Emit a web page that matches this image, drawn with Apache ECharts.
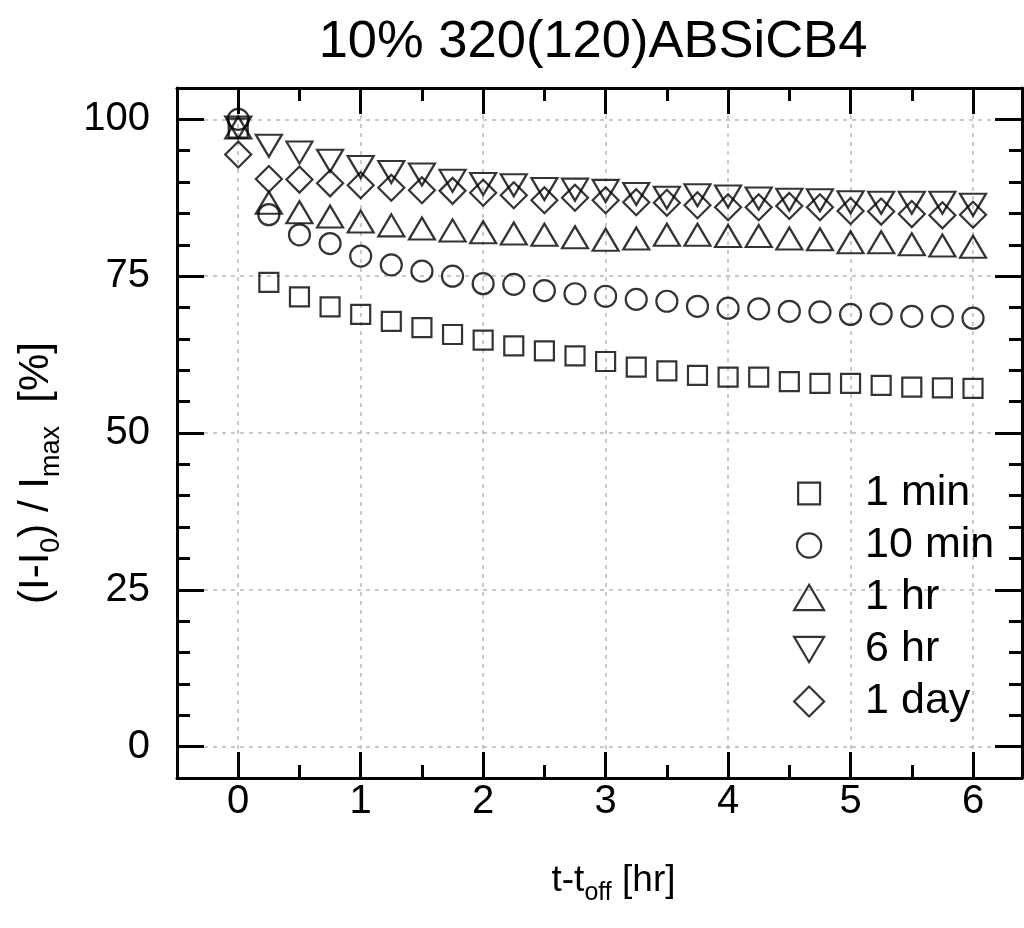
<!DOCTYPE html>
<html>
<head>
<meta charset="utf-8">
<script src="https://cdn.jsdelivr.net/npm/echarts@6/dist/echarts.min.js"></script>
<style>
html,body{margin:0;padding:0;background:#fff;}
#chart{width:1024px;height:928px;}
</style>
</head>
<body>
<div id="chart"></div>
<script>
// ---- data ----
const times = [0, 0.25, 0.5, 0.75, 1, 1.25, 1.5, 1.75, 2, 2.25, 2.5, 2.75, 3, 3.25, 3.5, 3.75, 4, 4.25, 4.5, 4.75, 5, 5.25, 5.5, 5.75, 6];
const oneMin = [98.6, 74.0, 71.7, 70.1, 68.9, 67.8, 66.8, 65.7, 64.8, 63.9, 63.1, 62.3, 61.4, 60.5, 59.9, 59.2, 58.9, 58.9, 58.2, 57.9, 57.9, 57.6, 57.3, 57.2, 57.1];
const tenMin = [100, 84.8, 81.6, 80.2, 78.2, 76.8, 75.8, 75.0, 73.8, 73.7, 72.7, 72.2, 71.8, 71.3, 71.0, 70.2, 69.9, 69.8, 69.4, 69.3, 68.9, 69.0, 68.6, 68.6, 68.3];
const oneHr = [98.7, 86.7, 85.2, 84.5, 83.7, 83.1, 82.6, 82.3, 82.0, 81.8, 81.6, 81.2, 80.8, 81.0, 81.6, 81.6, 81.4, 81.4, 81.0, 80.9, 80.4, 80.4, 80.1, 79.9, 79.7];
const sixHr = [98.7, 95.8, 94.7, 93.4, 92.4, 91.6, 91.2, 90.2, 89.7, 89.5, 88.9, 88.8, 88.6, 88.1, 87.5, 87.9, 87.7, 87.4, 87.2, 87.1, 86.8, 86.7, 86.7, 86.7, 86.4];
const oneDay = [94.4, 90.5, 90.4, 89.8, 89.5, 89.1, 88.7, 88.6, 88.3, 87.9, 87.1, 87.5, 87.1, 86.8, 86.7, 86.3, 86.0, 86.0, 86.2, 86.0, 85.4, 85.3, 84.9, 84.7, 84.8];
const seriesNames = ['1 min', '10 min', '1 hr', '6 hr', '1 day'];
const xMajorTicks = [0, 1, 2, 3, 4, 5, 6];
const xMinorTicks = [0.5, 1.5, 2.5, 3.5, 4.5, 5.5];
const yMajorTicks = [0, 25, 50, 75, 100];
const yMinorTicks = [0, 5, 10, 15, 20, 30, 35, 40, 45, 55, 60, 65, 70, 80, 85, 90, 95];
const titleText = '10% 320(120)ABSiCB4';

// ---- styling ----
const FONT = '"Liberation Sans", Arial, Helvetica, sans-serif';
const X_MIN = -0.5, X_MAX = 6.4, Y_MIN = -5, Y_MAX = 105;
const markStyle = { color: 'rgba(0,0,0,0)', borderColor: '#000', borderWidth: 2.2 };
const downTri = 'path://M0,0 L26,0 L13,22 Z';

function pairs(vals) { return times.map((t, i) => [t, vals[i]]); }

function xAx(pos, ticks, len, major, extra) {
  return Object.assign({
    type: 'value', position: pos, min: X_MIN, max: X_MAX, gridIndex: 0,
    axisLine: { show: major, onZero: false, lineStyle: { color: '#000', width: 3 } },
    axisTick: { show: true, inside: true, length: len, customValues: ticks, lineStyle: { color: '#000', width: 3 } },
    axisLabel: { show: false },
    splitLine: { show: false }
  }, extra || {});
}
function yAx(pos, ticks, len, major, extra) {
  return Object.assign({
    type: 'value', position: pos, min: Y_MIN, max: Y_MAX, gridIndex: 0,
    axisLine: { show: major, onZero: false, lineStyle: { color: '#000', width: 3 } },
    axisTick: { show: true, inside: true, length: len, customValues: ticks, lineStyle: { color: '#000', width: 3 } },
    axisLabel: { show: false },
    splitLine: { show: false }
  }, extra || {});
}

const gridLine = { show: true, lineStyle: { color: '#b8b8b8', width: 1.5, type: [4, 5] } };

const option = {
  backgroundColor: '#fff',
  animation: false,
  title: {
    text: titleText, left: 588, top: 11, textAlign: 'center',
    textStyle: { fontFamily: FONT, fontSize: 52.5, fontWeight: 'normal', color: '#000' }
  },
  grid: { left: 177, right: 2, top: 88, bottom: 150, containLabel: false },
  xAxis: [
    xAx('bottom', xMajorTicks, 26, true, {
      axisLabel: { show: true, customValues: xMajorTicks, margin: 4, fontSize: 40, fontFamily: FONT, color: '#000' },
      splitLine: gridLine,
      name: '{m|t-t}{s|off}{m| [hr]}', nameLocation: 'middle', nameGap: 84,
      nameTextStyle: {
        padding: [0, 0, 0, 28],
        rich: {
          m: { fontFamily: FONT, fontSize: 37, color: '#000', lineHeight: 44, verticalAlign: 'top' },
          s: { fontFamily: FONT, fontSize: 25, color: '#000', lineHeight: 44, verticalAlign: 'bottom' }
        }
      }
    }),
    xAx('bottom', xMinorTicks, 13, false),
    xAx('top', xMajorTicks, 26, true),
    xAx('top', xMinorTicks, 13, false)
  ],
  yAxis: [
    yAx('left', yMajorTicks, 27, true, {
      axisLabel: { show: true, customValues: yMajorTicks, margin: 27, fontSize: 40, fontFamily: FONT, color: '#000' },
      splitLine: gridLine,
      name: '{m|(I-I}{s|0}{m|) / I}{s|max}{m|  [%]}', nameLocation: 'middle', nameGap: 112,
      nameTextStyle: {
        padding: [0, 80, 0, 0],
        rich: {
          m: { fontFamily: FONT, fontSize: 42, color: '#000', lineHeight: 50, verticalAlign: 'top' },
          s: { fontFamily: FONT, fontSize: 27, color: '#000', lineHeight: 50, verticalAlign: 'bottom' }
        }
      }
    }),
    yAx('left', yMinorTicks, 13, false),
    yAx('right', yMajorTicks, 27, true),
    yAx('right', yMinorTicks, 13, false)
  ],
  legend: {
    orient: 'vertical', left: 788, top: 467, itemWidth: 30, itemHeight: 30, itemGap: 9,
    padding: 5,
    textStyle: { fontFamily: FONT, fontSize: 43, color: '#000', padding: [0, 0, 0, 36] },
    itemStyle: markStyle,
    data: [
      { name: seriesNames[0], icon: 'path://M0,0 M26,26 M3.5,3.5 L22.5,3.5 L22.5,22.5 L3.5,22.5 Z' },
      { name: seriesNames[1], icon: 'path://M0,0 M26,26 M2.5,13 A10.5,10.5 0 1 1 23.5,13 A10.5,10.5 0 1 1 2.5,13 Z' },
      { name: seriesNames[2], icon: 'path://M0,0 M26,26 M13,2 L26,24 L0,24 Z' },
      { name: seriesNames[3], icon: 'path://M0,0 M26,26 M0,2 L26,2 L13,24 Z' },
      { name: seriesNames[4], icon: 'path://M0,0 M26,26 M13,0 L26,13 L13,26 L0,13 Z' }
    ]
  },
  series: [
    { name: seriesNames[0], type: 'scatter', xAxisIndex: 0, yAxisIndex: 0, symbol: 'rect', symbolSize: 19, itemStyle: markStyle, data: pairs(oneMin) },
    { name: seriesNames[1], type: 'scatter', xAxisIndex: 0, yAxisIndex: 0, symbol: 'circle', symbolSize: 21, itemStyle: markStyle, data: pairs(tenMin) },
    { name: seriesNames[2], type: 'scatter', xAxisIndex: 0, yAxisIndex: 0, symbol: 'triangle', symbolSize: [26, 22], itemStyle: markStyle, data: pairs(oneHr) },
    { name: seriesNames[3], type: 'scatter', xAxisIndex: 0, yAxisIndex: 0, symbol: downTri, symbolSize: [26, 22], itemStyle: markStyle, data: pairs(sixHr) },
    { name: seriesNames[4], type: 'scatter', xAxisIndex: 0, yAxisIndex: 0, symbol: 'diamond', symbolSize: [26, 26], itemStyle: markStyle, data: pairs(oneDay) }
  ]
};

const chart = echarts.init(document.getElementById('chart'), null, { renderer: 'canvas' });
chart.setOption(option);
</script>
</body>
</html>
